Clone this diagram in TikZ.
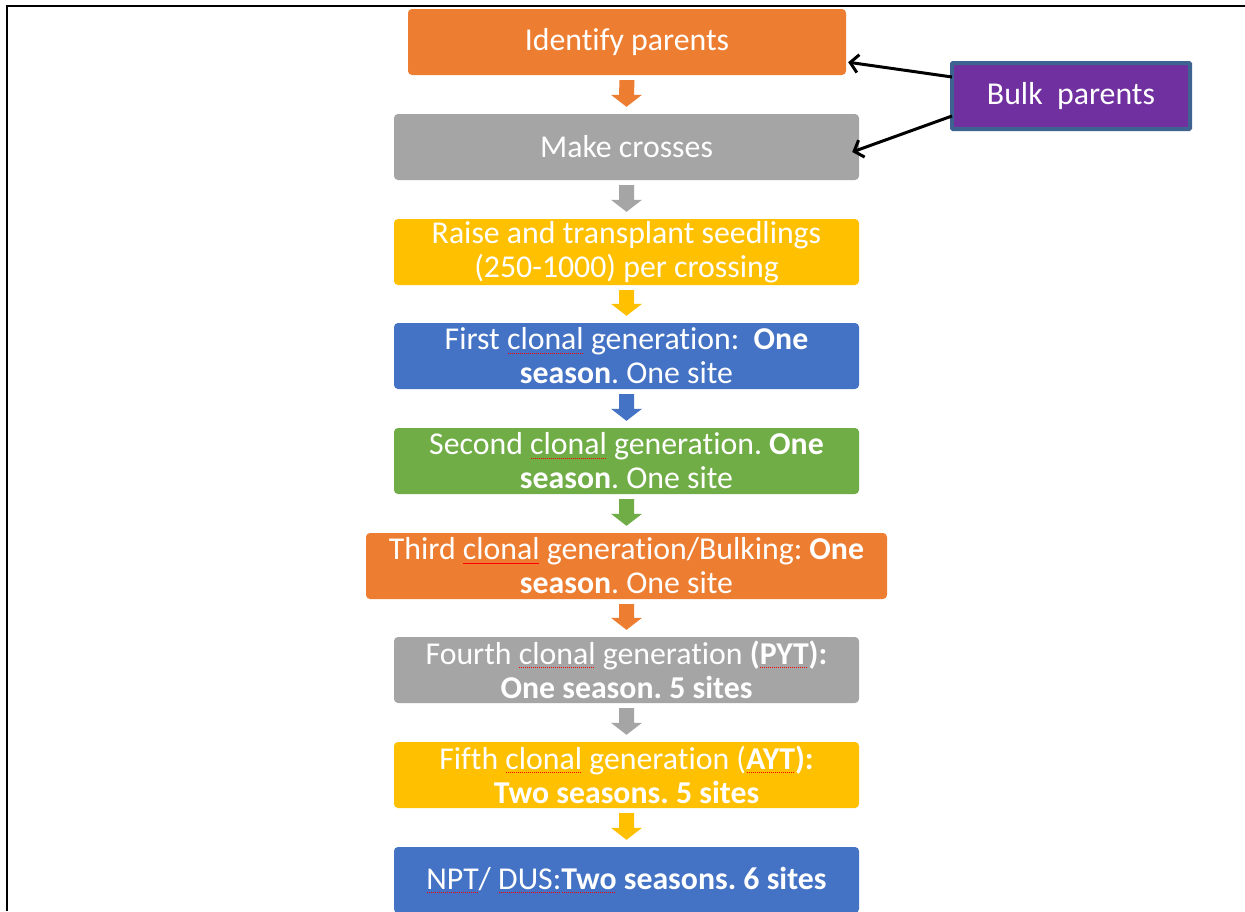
\documentclass[tikz,border=0pt]{standalone}
\usepackage{fontspec}
\setmainfont[Ligatures=NoCommon]{Carlito}
\usetikzlibrary{arrows.meta,calc}
\definecolor{corange}{HTML}{ED7D31}
\definecolor{cgray}{HTML}{A5A5A5}
\definecolor{cyellow}{HTML}{FFC000}
\definecolor{cblue}{HTML}{4472C4}
\definecolor{cgreen}{HTML}{70AD47}
\definecolor{cpurple}{HTML}{7030A0}
\definecolor{cborder}{HTML}{3E6391}
\frenchspacing
\newsavebox\sqbox
\newcommand\sq[1]{\sbox\sqbox{#1}\rlap{\raisebox{-3.5pt}{\color{red}\hbox to \wd\sqbox{\leaders\hbox to 2pt{\hss\vrule width 1.1pt height 0.9pt\hss}\hfill}}}\usebox\sqbox}
\newcommand\blockarrow[3]{%
  \fill[#3] ($(#1.south)+(-7.5,5)$) -- ($(#1.south)+(7.5,5)$) -- ($(#2.north)+(7.5,-19)$) -- ($(#2.north)+(15.5,-19)$) -- ($(#2.north)+(0,-7)$) -- ($(#2.north)+(-15.5,-19)$) -- ($(#2.north)+(-7.5,-19)$) -- cycle;}
\begin{document}
\begin{tikzpicture}[x=1pt,y=-1pt,
  stepbox/.style={rounded corners=4pt, text=white, align=center, inner sep=0pt,
    font=\fontsize{31.8}{34}\selectfont, minimum height=66pt, minimum width=465pt},
  link/.style={line width=3pt, -{Straight Barb[length=8pt,width=18pt,line width=3pt]}}]
\useasboundingbox (0,0) rectangle (1245,911);
\fill[white] (0,0) rectangle (1245,911);
\draw[line width=2pt] (7,911) -- (7,6) -- (1245,6);

\node[stepbox, fill=corange, minimum width=438pt] (id) at (627,42) {Identify parents};
\node[stepbox, fill=cgray] (mc) at (626.5,147) {Make crosses};
\node[stepbox, fill=cyellow] (rs) at (626.5,252) {Raise and transplant seedlings\\(250-1000) per crossing};
\node[stepbox, fill=cblue] (g1) at (626.5,356) {First \sq{clonal} generation:\ \ \textbf{One}\\\textbf{season}. One site};
\node[stepbox, fill=cgreen] (g2) at (626.5,461) {Second \sq{clonal} generation. \textbf{One}\\\textbf{season}. One site};
\node[stepbox, fill=corange, minimum width=521pt] (g3) at (626.5,566) {Third \sq{clonal} generation/Bulking: \textbf{One}\\\textbf{season}. One site};
\node[stepbox, fill=cgray] (g4) at (626.5,670) {Fourth \sq{clonal} generation \textbf{(\sq{PYT}):}\\\textbf{One season. 5 sites}};
\node[stepbox, fill=cyellow] (g5) at (626.5,775) {Fifth \sq{clonal} generation (\textbf{\sq{AYT}):}\\\textbf{Two seasons. 5 sites}};
\node[stepbox, fill=cblue] (g6) at (626.5,880) {\sq{NPT}/ \sq{DUS:}\textbf{\sq{Two} seasons. 6 sites}};

\blockarrow{id}{mc}{corange}
\blockarrow{mc}{rs}{cgray}
\blockarrow{rs}{g1}{cyellow}
\blockarrow{g1}{g2}{cblue}
\blockarrow{g2}{g3}{cgreen}
\blockarrow{g3}{g4}{corange}
\blockarrow{g4}{g5}{cgray}
\blockarrow{g5}{g6}{cyellow}

\node[fill=cpurple, draw=cborder, line width=4pt, rounded corners=1pt, text=white,
  font=\fontsize{31.8}{34}\selectfont, minimum width=238pt, minimum height=66pt, inner sep=0pt]
  (bulk) at (1071,96) {Bulk\ \ parents};
\draw[link] ($(bulk.west)+(2,-19)$) -- ($(id.south east)+(2,-13)$);
\draw[link] ($(bulk.west)+(2,20)$) -- ($(mc.east)+(-7,5)$);
\end{tikzpicture}
\end{document}
